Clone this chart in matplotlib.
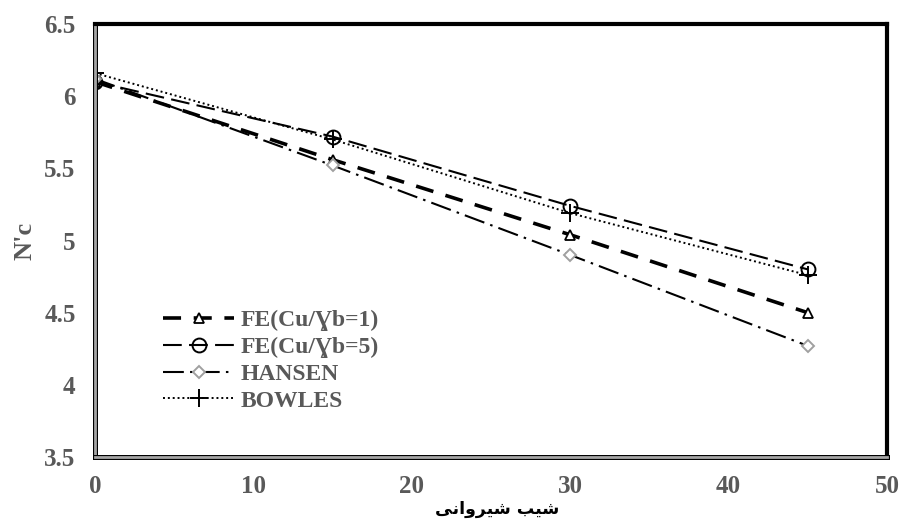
import matplotlib
matplotlib.use("Agg")
import matplotlib.pyplot as plt
import matplotlib.patheffects as pe

# slope angle (deg) vs bearing factor N'c
slope = [0, 15, 30, 45]
fe_cu1 = [6.10, 5.56, 5.04, 4.50]
fe_cu5 = [6.10, 5.72, 5.24, 4.80]
hansen = [6.12, 5.52, 4.90, 4.27]
bowles = [6.16, 5.70, 5.19, 4.76]

labels = ["FE(Cu/\u0194b=1)", "FE(Cu/\u0194b=5)", "HANSEN", "BOWLES"]
xticks = [0, 10, 20, 30, 40, 50]
yticks = [3.5, 4, 4.5, 5, 5.5, 6, 6.5]

# "شیب شیروانی" in presentation forms, visual order
xlabel_fa = "\uFBFD\uFEE7\uFE8D\uFEED\uFEAE\uFEF4\uFEB7 \uFE90\uFEF4\uFEB7"

grey = "#595959"
serif = ["Liberation Serif", "DejaVu Serif"]

fig = plt.figure(figsize=(8.99, 5.29), dpi=100)
ax = fig.add_axes([0.1057, 0.136, 0.8810, 0.8186])

ax.plot(slope, fe_cu1, color="black", lw=2.6, dashes=(5, 3.5),
        marker="^", ms=7, mfc="white", mec="black", mew=1.3, label=labels[0])
ax.plot(slope, fe_cu5, color="black", lw=1.5, dashes=(9, 3.5),
        marker="o", ms=10, mfc="none", mec="black", mew=1.4, label=labels[1])
ax.plot(slope, hansen, color="black", lw=1.5, dashes=(10, 3, 1.2, 3),
        marker="D", ms=6, mfc="white", mec="#a0a0a0", mew=1.4, label=labels[2])
ax.plot(slope, bowles, color="black", lw=1.4, dashes=(1, 1.5),
        marker="+", ms=13, mec="black", mew=1.4, label=labels[3])

ax.set_xlim(0, 50)
ax.set_ylim(3.5, 6.5)
ax.set_xticks(xticks)
ax.set_yticks(yticks)
ax.set_xticklabels([str(v) for v in xticks])
ax.set_yticklabels([f"{v:g}" for v in yticks])
ax.tick_params(axis="x", length=0, pad=13)
ax.tick_params(axis="y", length=0, pad=14)
for lab in ax.get_xticklabels() + ax.get_yticklabels():
    lab.set_family(serif)
    lab.set_fontweight("bold")
    lab.set_fontsize(18)
    lab.set_color(grey)

for side in ["top", "right"]:
    ax.spines[side].set_linewidth(3)
    ax.spines[side].set_color("black")
for side in ["left", "bottom"]:
    ax.spines[side].set_linewidth(2)
    ax.spines[side].set_color("#a6a6a6")
    ax.spines[side].set_path_effects([pe.withStroke(linewidth=3.6, foreground="black")])

ax.set_ylabel("N'c", family=serif, fontweight="bold", fontsize=19, color=grey)
ax.yaxis.set_label_coords(-0.074, 0.5)
ax.set_xlabel(xlabel_fa, family=["DejaVu Sans", "Noto Sans"], fontweight="bold",
              fontsize=12.5, color="black")
ax.xaxis.set_label_coords(0.508, -0.1)

leg = ax.legend(loc="upper left", bbox_to_anchor=(0.086, 0.34), frameon=False,
                borderpad=0, borderaxespad=0,
                handlelength=3.0, handletextpad=0.3, labelspacing=0.22,
                prop={"family": serif, "weight": "bold", "size": 17})
for t in leg.get_texts():
    t.set_color(grey)

fig.savefig("out.png", dpi=100)
